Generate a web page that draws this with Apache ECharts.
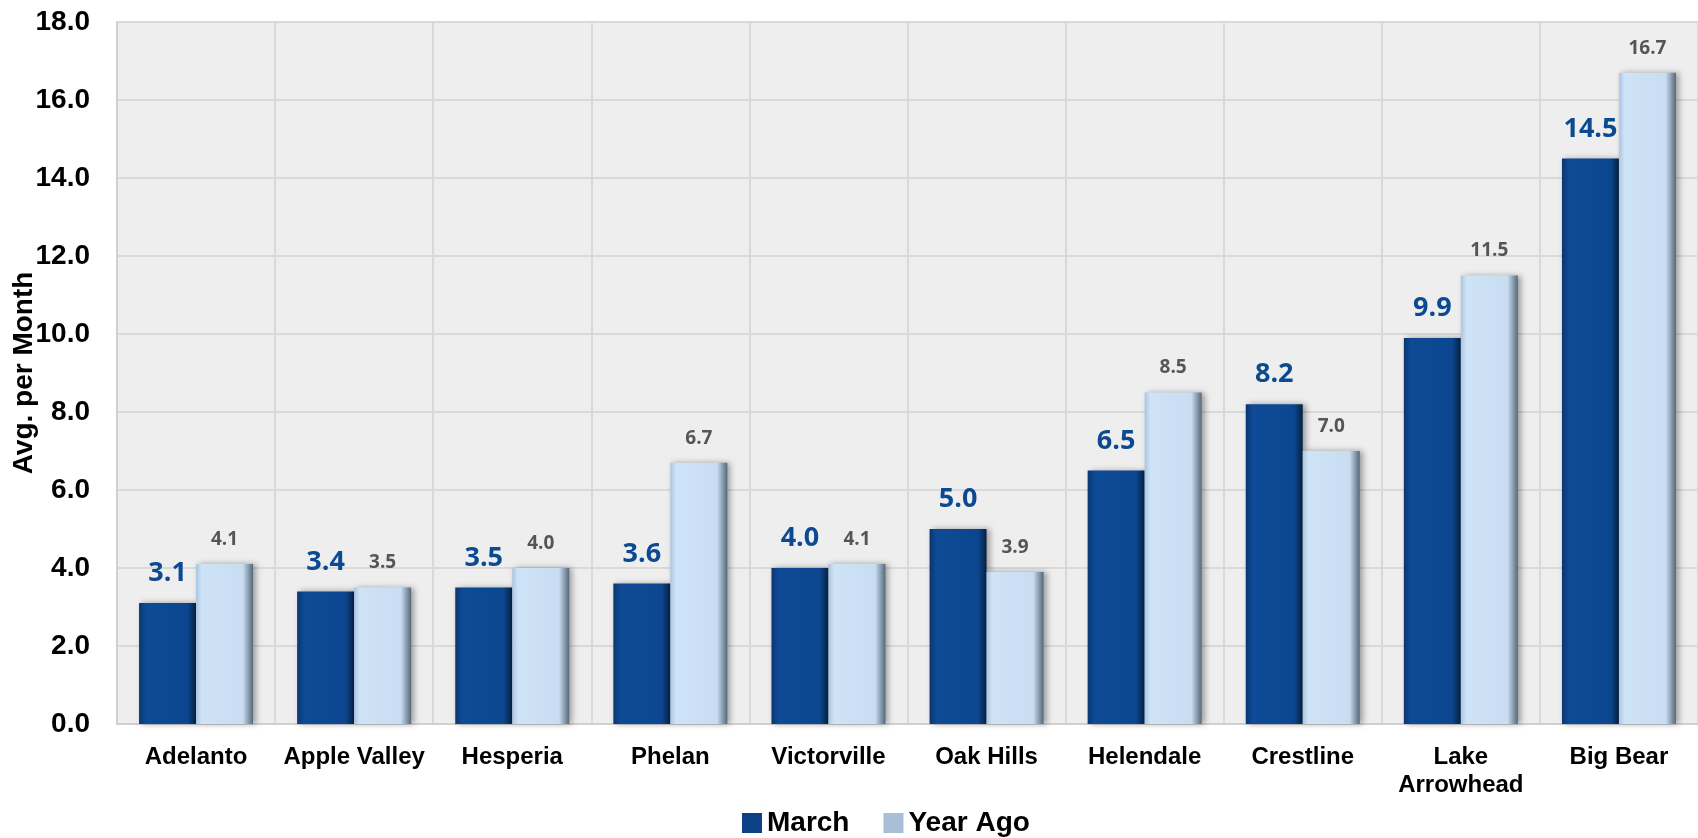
<!DOCTYPE html>
<html>
<head>
<meta charset="utf-8">
<script src="https://cdn.jsdelivr.net/npm/echarts@6/dist/echarts.min.js"></script>
<style>
  html, body { margin: 0; padding: 0; background: #fff; }
  #chart { width: 1698px; height: 838px; }
</style>
</head>
<body>
<div id="chart"></div>
<script>
const categories = ['Adelanto', 'Apple Valley', 'Hesperia', 'Phelan', 'Victorville', 'Oak Hills', 'Helendale', 'Crestline', 'Lake\nArrowhead', 'Big Bear']
const marchValues = [3.1, 3.4, 3.5, 3.6, 4.0, 5.0, 6.5, 8.2, 9.9, 14.5]
const yearAgoValues = [4.1, 3.5, 4.0, 6.7, 4.1, 3.9, 8.5, 7.0, 11.5, 16.7]

const chart = echarts.init(document.getElementById('chart'))

// horizontal gradients give the bars a bevelled look
const marchFill = new echarts.graphic.LinearGradient(0, 0, 1, 0, [
  { offset: 0, color: '#0a3670' },
  { offset: 0.12, color: '#0e4a95' },
  { offset: 0.85, color: '#0c4690' },
  { offset: 1, color: '#05213f' }
])
const yearAgoFill = new echarts.graphic.LinearGradient(0, 0, 1, 0, [
  { offset: 0, color: '#a9c6e2' },
  { offset: 0.1, color: '#cfe3f7' },
  { offset: 0.82, color: '#c8ddf2' },
  { offset: 1, color: '#56687a' }
])

const boldFont = 'Liberation Sans, Arial'

chart.setOption({
  animation: false,
  grid: {
    left: 117, right: 0, top: 22, bottom: 114,
    outerBoundsMode: 'none',
    backgroundColor: '#eeeeee', show: true, borderWidth: 0
  },
  legend: {
    top: 804,
    left: 737,
    icon: 'rect',
    itemWidth: 20,
    itemHeight: 20,
    itemGap: 34,
    textStyle: { fontFamily: boldFont, fontWeight: 'bold', fontSize: 28, color: '#000' },
    data: [
      { name: 'March', itemStyle: { color: '#0d4185' } },
      { name: 'Year Ago', itemStyle: { color: '#a9bfd6' } }
    ]
  },
  xAxis: {
    type: 'category',
    data: categories,
    axisLine: { show: true, lineStyle: { color: '#d0d0d0', width: 2 } },
    axisTick: { show: false },
    splitLine: { show: true, lineStyle: { color: '#d9d9d9', width: 2 } },
    axisLabel: {
      fontFamily: boldFont,
      fontWeight: 'bold',
      fontSize: 24,
      color: '#000',
      margin: 19,
      lineHeight: 28,
      interval: 0
    }
  },
  yAxis: {
    type: 'value',
    min: 0,
    max: 18,
    interval: 2,
    name: 'Avg. per Month',
    nameLocation: 'middle',
    nameGap: 79,
    nameMoveOverlap: false,
    nameTextStyle: { fontFamily: boldFont, fontWeight: 'bold', fontSize: 28, color: '#000' },
    axisLine: { show: true, lineStyle: { color: '#d0d0d0', width: 2 } },
    axisTick: { show: false },
    splitLine: { lineStyle: { color: '#d9d9d9', width: 2 } },
    axisLabel: {
      fontFamily: boldFont,
      fontWeight: 'bold',
      fontSize: 28,
      color: '#000',
      margin: 27,
      formatter: v => v.toFixed(1)
    }
  },
  series: [
    {
      name: 'March',
      type: 'bar',
      data: marchValues,
      barWidth: 57,
      barGap: '0%',
      itemStyle: {
        color: marchFill,
        shadowColor: 'rgba(0,0,0,0.35)',
        shadowBlur: 6,
        shadowOffsetX: 3,
        shadowOffsetY: 0
      },
      label: {
        show: true,
        position: 'top',
        distance: 16,
        fontFamily: 'Open Sans, Noto Sans, sans-serif',
        fontWeight: 'bold',
        fontSize: 27,
        color: '#0b4a91',
        formatter: p => p.value.toFixed(1)
      }
    },
    {
      name: 'Year Ago',
      type: 'bar',
      data: yearAgoValues,
      barWidth: 57,
      itemStyle: {
        color: yearAgoFill,
        shadowColor: 'rgba(0,0,0,0.35)',
        shadowBlur: 6,
        shadowOffsetX: 3,
        shadowOffsetY: 0
      },
      label: {
        show: true,
        position: 'top',
        distance: 15,
        fontFamily: 'Open Sans, Noto Sans, sans-serif',
        fontWeight: 'bold',
        fontSize: 19,
        color: '#555555',
        formatter: p => p.value.toFixed(1)
      }
    }
  ]
})
</script>
</body>
</html>
